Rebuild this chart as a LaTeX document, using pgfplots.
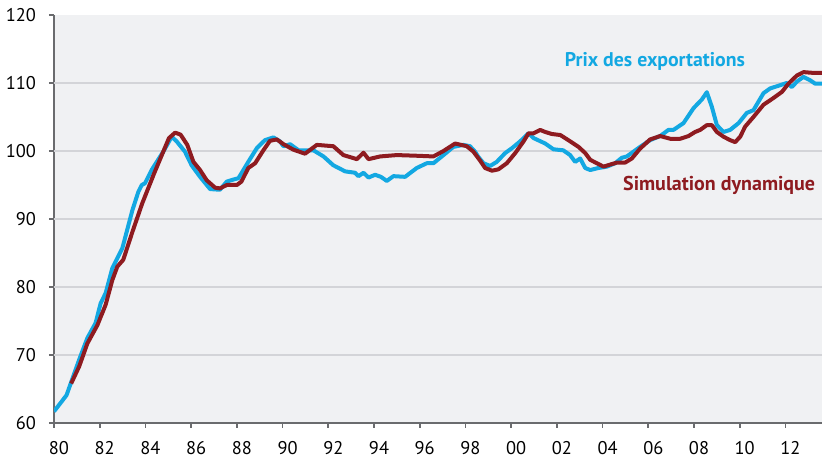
\documentclass[border=0pt]{standalone}
\usepackage{pgfplots}
\pgfplotsset{compat=1.18}
\usepackage{fontspec}
\setmainfont{PT Sans}
\definecolor{prixblue}{HTML}{13A8E2}
\definecolor{simred}{HTML}{8E1B20}
\definecolor{bggray}{HTML}{F0F1F3}
\definecolor{gridgray}{HTML}{D3D4D8}
\definecolor{axgray}{HTML}{6A6B6E}

\begin{document}
\begin{tikzpicture}
\begin{axis}[
  name=ax,
  scale only axis, width=384pt, height=204pt,
  xmin=1980, xmax=2013.6, ymin=60, ymax=120,
  axis lines*=left,
  axis line style={axgray, line width=1pt},
  axis background/.style={fill=bggray},
  xtick={1980,1982,...,2012},
  xticklabels={80,82,84,86,88,90,92,94,96,98,00,02,04,06,08,10,12},
  ytick={60,70,...,120},
  extra y ticks={70,80,90,100,110},
  extra y tick labels={},
  extra y tick style={grid=major, major tick length=0pt},
  grid style={gridgray, line width=0.6pt},
  tick style={axgray, line width=0.8pt},
  major tick length=2.5pt,
  tick align=outside,
  font=\fontsize{9.2}{10}\selectfont,
  /pgf/number format/assume math mode=true,
  xticklabel style={xshift=2.5pt, yshift=-3pt},
  yticklabel style={xshift=-3pt},
  clip=true,
]

% prix des exportations
\addplot[prixblue, line width=2pt, line join=round] coordinates {
(1980.0,61.7) (1980.3,63.0) (1980.55,64.1) (1980.73,65.8) (1981.1,69.3)
(1981.46,72.5) (1981.82,74.7) (1982.04,77.6) (1982.26,79.1) (1982.55,82.75)
(1982.99,85.7) (1983.43,91.3) (1983.69,94.0) (1983.84,95.0) (1983.98,95.25)
(1984.27,97.2) (1984.78,99.9) (1985.15,102.1) (1985.37,101.4) (1985.73,99.9)
(1986.02,97.9) (1986.39,96.2) (1986.83,94.4) (1987.26,94.3) (1987.56,95.5)
(1987.85,95.8) (1988.07,96.0) (1988.5,98.4) (1988.87,100.4) (1989.23,101.6)
(1989.6,102.0) (1989.89,101.4) (1990.04,100.7) (1990.33,101.0) (1990.7,100.1)
(1991.35,100.1) (1991.79,99.2) (1992.22,97.9) (1992.74,97.0) (1993.17,96.8)
(1993.32,96.3) (1993.54,96.8) (1993.76,96.1) (1994.05,96.5) (1994.3,96.2)
(1994.56,95.6) (1994.85,96.3) (1995.36,96.2) (1995.87,97.5) (1996.31,98.2)
(1996.6,98.2) (1997.04,99.4) (1997.47,100.6) (1997.91,100.9) (1998.2,100.7)
(1998.42,99.9) (1998.55,99.2) (1998.79,98.2) (1999.08,97.8) (1999.37,98.4)
(1999.74,99.7) (2000.03,100.4) (2000.39,101.4) (2000.76,102.6) (2000.98,101.9)
(2001.49,101.1) (2001.85,100.25) (2002.28,100.1) (2002.58,99.4) (2002.8,98.4)
(2003.02,98.9) (2003.24,97.5) (2003.46,97.2) (2003.82,97.5) (2004.19,97.7)
(2004.55,98.2) (2004.84,99.0) (2005.06,99.2) (2005.35,99.9) (2005.64,100.6)
(2006.08,101.6) (2006.52,102.2) (2006.88,103.1) (2007.1,103.1) (2007.54,104.1)
(2007.98,106.3) (2008.35,107.6) (2008.56,108.65) (2008.78,106.5) (2009.0,103.8)
(2009.29,102.8) (2009.58,103.1) (2009.95,104.1) (2010.31,105.6) (2010.6,106.0)
(2011.04,108.5) (2011.33,109.2) (2011.7,109.6) (2012.06,110.0) (2012.28,109.4)
(2012.5,110.2) (2012.79,110.9) (2013.08,110.4) (2013.3,109.9) (2013.6,109.9)
};

% simulation dynamique
\addplot[simred, line width=2pt, line join=round] coordinates {
(1980.75,65.8) (1981.1,68.3) (1981.46,71.7) (1981.9,74.4) (1982.26,77.4)
(1982.55,81.0) (1982.77,83.0) (1983.03,84.0) (1983.43,88.1) (1983.86,92.3)
(1984.38,96.7) (1985.03,101.9) (1985.3,102.7) (1985.54,102.4) (1985.83,100.9)
(1986.1,98.4) (1986.39,97.2) (1986.68,95.7) (1987.05,94.6) (1987.26,94.5)
(1987.56,95.0) (1988.0,95.0) (1988.2,95.5) (1988.5,97.5) (1988.8,98.2)
(1989.16,100.1) (1989.45,101.5) (1989.75,101.7) (1990.04,101.0) (1990.47,100.2)
(1990.98,99.6) (1991.5,100.9) (1992.22,100.7) (1992.66,99.4) (1993.25,98.8)
(1993.54,99.75) (1993.76,98.8) (1994.27,99.2) (1995.0,99.4) (1995.87,99.3)
(1996.6,99.2) (1997.04,100.0) (1997.55,101.1) (1998.06,100.7) (1998.35,99.9)
(1998.64,98.6) (1998.86,97.5) (1999.16,97.1) (1999.44,97.3) (1999.81,98.2)
(2000.18,99.7) (2000.54,101.4) (2000.76,102.6) (2000.98,102.6) (2001.27,103.1)
(2001.49,102.8) (2001.78,102.5) (2002.15,102.35) (2002.5,101.6) (2002.95,100.6)
(2003.24,99.7) (2003.46,98.7) (2003.75,98.2) (2004.04,97.7) (2004.33,98.0)
(2004.63,98.3) (2004.99,98.3) (2005.28,98.9) (2005.64,100.35) (2006.08,101.7)
(2006.52,102.2) (2006.96,101.8) (2007.4,101.8) (2007.76,102.2) (2008.05,102.8)
(2008.27,103.1) (2008.56,103.8) (2008.78,103.8) (2009.0,102.8) (2009.29,102.1)
(2009.58,101.6) (2009.8,101.3) (2010.02,102.1) (2010.24,103.6) (2010.6,105.0)
(2011.04,106.8) (2011.48,107.8) (2011.85,108.7) (2012.13,109.9) (2012.5,111.1)
(2012.79,111.6) (2013.16,111.5) (2013.6,111.5)
};

\node[prixblue, font=\fontsize{9.9}{11}\selectfont\bfseries] at (axis cs:2006.29,113.1) {Prix des exportations};
\node[simred, font=\fontsize{10}{11}\selectfont\bfseries] at (axis cs:2009.1,95.0) {Simulation dynamique};
\end{axis}
\pgfresetboundingbox
\path[use as bounding box] ([shift={(-27pt,-17.5pt)}]ax.south west) rectangle ([shift={(0pt,7.5pt)}]ax.north east);
\end{tikzpicture}
\end{document}
